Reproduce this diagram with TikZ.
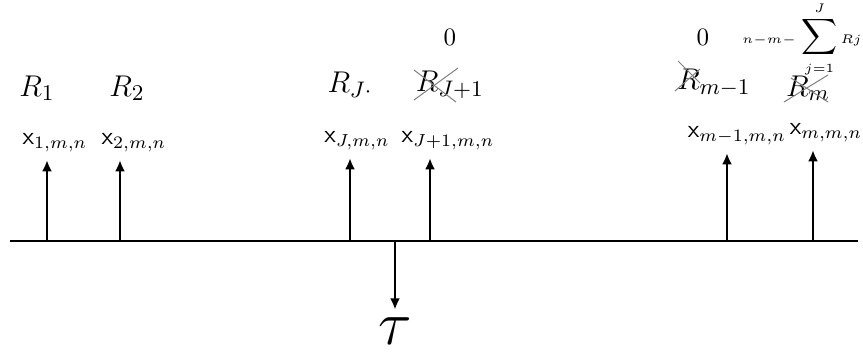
\documentclass[tikz,border=0pt]{standalone}
\usepackage{amsmath,amssymb}
\usetikzlibrary{arrows.meta}

\begin{document}
\begin{tikzpicture}[x=0.4pt,y=-0.4pt,
  up/.style={line width=1pt,-{Latex[length=4.5pt,width=4pt]},shorten >=2pt},
  rlab/.style={inner sep=1pt,font=\fontsize{12.5}{14}\selectfont},
  xlab/.style={inner sep=1pt},
  strike/.style={gray,thin}]
  \useasboundingbox (0,0) rectangle (863,355);
  \draw[line width=1pt] (10,241) coordinate (l) -- (858,241) coordinate (r);
  % stations on the line
  \coordinate (b1) at (47,241);
  \coordinate (b2) at (120,241);
  \coordinate (bJ) at (350,241);
  \coordinate (bJ1) at (430,241);
  \coordinate (bm1) at (727,241);
  \coordinate (bm) at (813,241);
  \coordinate (bt) at (395,241);
  % labels x
  \node[xlab] (x1) at (55,143) {$\mathsf{x}_{1,m,n}$};
  \node[xlab] (x2) at (134,143) {$\mathsf{x}_{2,m,n}$};
  \node[xlab] (xJ) at (357,141) {$\mathsf{x}_{J,m,n}$};
  \node[xlab] (xJ1) at (448,141) {$\mathsf{x}_{J+1,m,n}$};
  \node[xlab] (xm1) at (737,136) {$\mathsf{x}_{m-1,m,n}$};
  \node[xlab] (xm) at (826,133) {$\mathsf{x}_{m,m,n}$};
  % labels R
  \node[rlab] (R1) at (37,88) {$R_1$};
  \node[rlab] (R2) at (127,88) {$R_2$};
  \node[rlab] (RJ) at (350,85) {$R_{J\cdot}$};
  \node[rlab] (RJ1) at (450,85) {$R_{J+1}$};
  \node[rlab] (Rm1) at (714,83) {$R_{m-1}$};
  \node[rlab] (Rm) at (808,88) {$R_m$};
  \node (z1) at (450,37) {$0$};
  \node (z2) at (703,37) {$0$};
  \node[inner sep=0pt] (s) at (802,39) {$\scriptscriptstyle n-m-\displaystyle\sum_{\scriptscriptstyle j=1}^{\scriptscriptstyle J}\scriptscriptstyle Rj$};
  \node[inner sep=0pt] (tau) at (395,331) {\fontsize{30}{32}\selectfont$\tau$};
  % crossed out
  \draw[strike] (414,70) -- (456,102);
  \draw[strike] (414,100) -- (458,68);
  \draw[strike] (675,91) -- (700,69);
  \draw[strike] (678,61) -- (700,83);
  \draw[strike] (784,102) -- (828,75);
  \draw[strike] (791,78) -- (828,102);
  % arrows
  \draw[up] (b1) -- (b1 |- x1.south);
  \draw[up] (b2) -- (b2 |- x2.south);
  \draw[up] (bJ) -- (bJ |- xJ.south);
  \draw[up] (bJ1) -- (bJ1 |- xJ1.south);
  \draw[up] (bm1) -- (bm1 |- xm1.south);
  \draw[up] (bm) -- (bm |- xm.south);
  \draw[up] (bt) -- ([yshift=1pt]tau.north);
\end{tikzpicture}
\end{document}
